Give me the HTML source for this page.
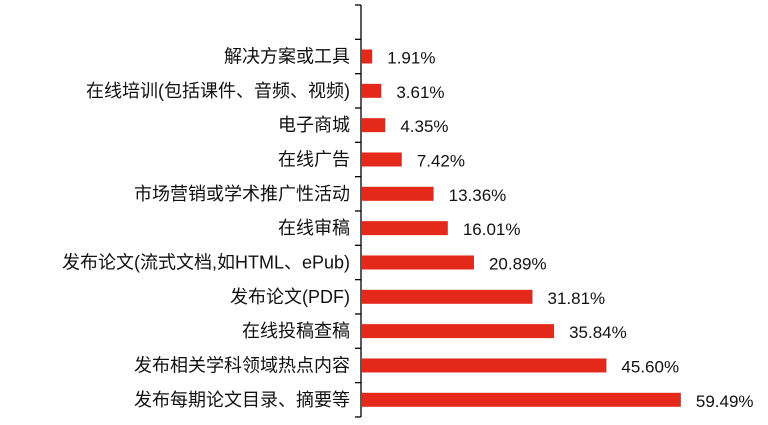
<!DOCTYPE html>
<html><head><meta charset="utf-8"><style>
body{margin:0;background:#fff;}
svg{display:block;font-family:"Liberation Sans","Noto Sans CJK SC",sans-serif;}
</style></head><body>
<svg id="c" width="768" height="425"></svg>
<script>
const categories=["解决方案或工具","在线培训(包括课件、音频、视频)","电子商城","在线广告","市场营销或学术推广性活动","在线审稿","发布论文(流式文档,如HTML、ePub)","发布论文(PDF)","在线投稿查稿","发布相关学科领域热点内容","发布每期论文目录、摘要等"];
const values=[1.91,3.61,4.35,7.42,13.36,16.01,20.89,31.81,35.84,45.60,59.49];
const labels=["1.91%","3.61%","4.35%","7.42%","13.36%","16.01%","20.89%","31.81%","35.84%","45.60%","59.49%"];
const NS="http://www.w3.org/2000/svg";
const svgEl=document.getElementById('c');
const x0=362, k=5.36, yTop=5, slot=34.33;
const xs=v=>x0+v*k;
const yc=i=>yTop+slot*(i+1)+slot/2;
function mk(t,a){const e=document.createElementNS(NS,t);for(const n in a)e.setAttribute(n,a[n]);svgEl.appendChild(e);return e;}
const ax=mk('line',{x1:361,y1:yTop,x2:361,y2:yTop+slot*12,stroke:'#000','stroke-width':1.3});


for(let j=0;j<=12;j++){const t=mk('line',{x1:355,x2:361,y1:yTop+slot*j,y2:yTop+slot*j,stroke:'#000','stroke-width':1.3});

}
categories.forEach((c,i)=>{
const y=yc(i);
const r=mk('rect',{x:x0,y:y-7,width:xs(values[i])-x0,height:14,fill:'#e4291b'});


const l=mk('text',{x:350,y:y+6,'text-anchor':'end','font-size':18,fill:'#111'});l.textContent=c;


const v=mk('text',{x:xs(values[i])+15,y:y+7,'font-size':17,fill:'#111'});v.textContent=labels[i];


});
</script>
</body></html>
